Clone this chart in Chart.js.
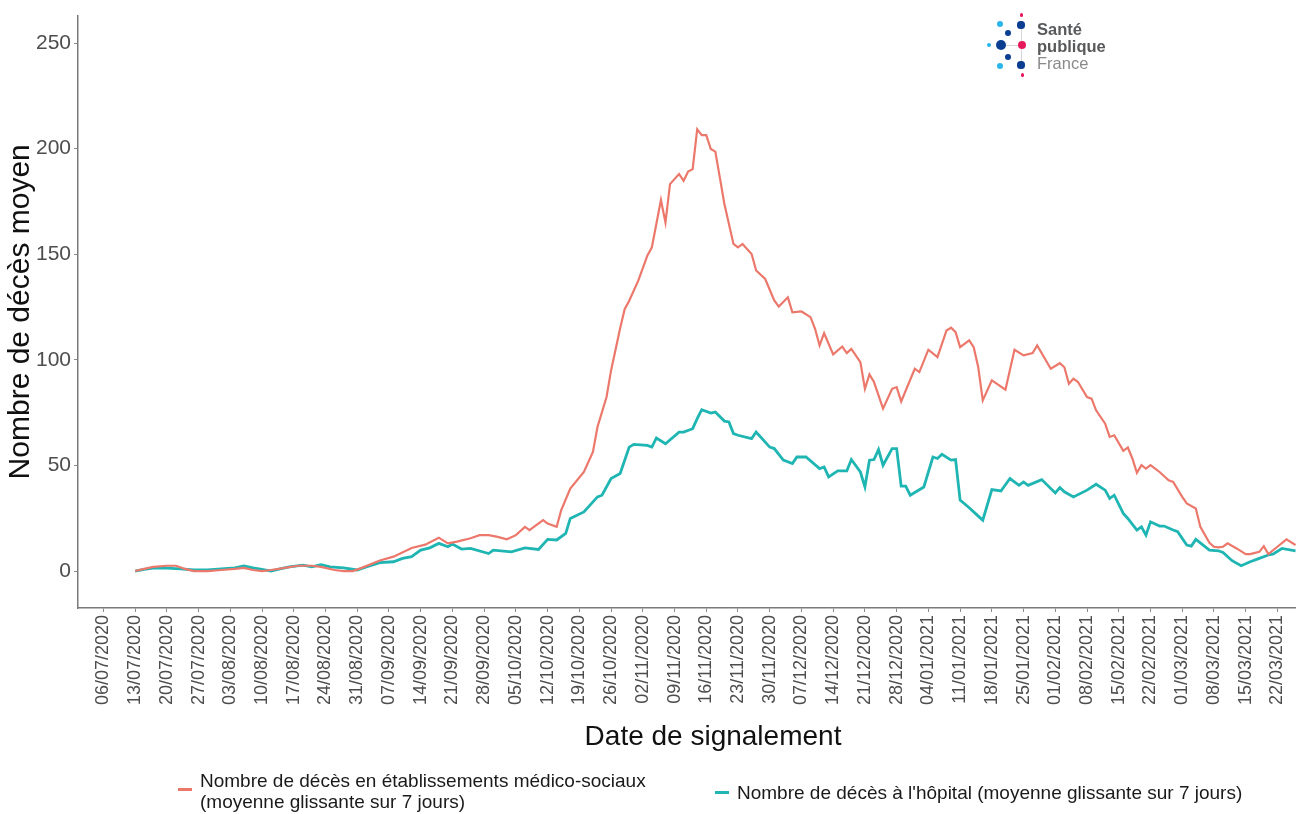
<!DOCTYPE html>
<html lang="fr">
<head>
<meta charset="utf-8">
<title>Nombre de décès moyen</title>
<script src="https://cdn.jsdelivr.net/npm/chart.js@4.4.0/dist/chart.umd.min.js"></script>
<style>
  html, body { margin: 0; padding: 0; background: #fff; }
  body { width: 1296px; height: 814px; position: relative; overflow: hidden; font-family: "Liberation Sans", Arial, sans-serif; }
  #graphique { position: absolute; left: 0; top: 0; }
  .legende { position: absolute; font-size: 19px; line-height: 21px; color: #1a1a1a; white-space: pre; }
  .cle { position: absolute; width: 14px; height: 3px; }
  #titreX { position: absolute; left: 713px; top: 720px; transform: translateX(-50%); font-size: 28px; line-height: 32px; color: #111; white-space: nowrap; }
  .logo { position: absolute; left: 980px; top: 8px; width: 150px; height: 75px; }
  .logo .pt { position: absolute; border-radius: 50%; }
  .logo .trait { position: absolute; background: #d6d6d6; }
  .logo .txt { position: absolute; left: 57px; font-size: 16.5px; line-height: 17px; color: #58595b; }
</style>
</head>
<body>
<canvas id="graphique" width="1296" height="814"></canvas>

<div id="titreX">Date de signalement</div>

<div class="logo" id="logo">
  <div class="trait" style="left:21px;top:36.5px;width:21px;height:1px"></div>
  <div class="trait" style="left:41px;top:17px;width:1px;height:40px"></div>
  <div class="txt" style="top:13px;font-weight:bold">Santé</div>
  <div class="txt" style="top:30px;font-weight:bold">publique</div>
  <div class="txt" style="top:47px;color:#8a8a8a">France</div>
</div>

<div class="legende" id="leg0" style="left:200px;top:770px"></div>
<div class="legende" id="leg1" style="left:737px;top:782px"></div>

<script>
// Axe des x : dates affichées (une par semaine)
const tickDates = ['06/07/2020','13/07/2020','20/07/2020','27/07/2020','03/08/2020','10/08/2020','17/08/2020','24/08/2020',
  '31/08/2020','07/09/2020','14/09/2020','21/09/2020','28/09/2020','05/10/2020','12/10/2020','19/10/2020','26/10/2020',
  '02/11/2020','09/11/2020','16/11/2020','23/11/2020','30/11/2020','07/12/2020','14/12/2020','21/12/2020','28/12/2020',
  '04/01/2021','11/01/2021','18/01/2021','25/01/2021','01/02/2021','08/02/2021','15/02/2021','22/02/2021','01/03/2021',
  '08/03/2021','15/03/2021','22/03/2021'];
const yTicks = [0, 50, 100, 150, 200, 250];

const nomsSeries = ['Nombre de décès en établissements médico-sociaux\n(moyenne glissante sur 7 jours)',
  "Nombre de décès à l'hôpital (moyenne glissante sur 7 jours)"];
const couleurs = ['#EC786C', '#1FB5B3'];

// Décès en établissements médico-sociaux (moyenne glissante 7 j)
const dateEms = ['13/07/2020','15/07/2020','17/07/2020','20/07/2020','22/07/2020','24/07/2020','26/07/2020','29/07/2020',
  '01/08/2020','04/08/2020','06/08/2020','08/08/2020','10/08/2020','12/08/2020','15/08/2020','18/08/2020','21/08/2020',
  '23/08/2020','26/08/2020','28/08/2020','30/08/2020','01/09/2020','05/09/2020','08/09/2020','12/09/2020','15/09/2020',
  '18/09/2020','20/09/2020','22/09/2020','25/09/2020','27/09/2020','29/09/2020','01/10/2020','03/10/2020','05/10/2020',
  '07/10/2020','08/10/2020','11/10/2020','12/10/2020','14/10/2020','15/10/2020','17/10/2020','20/10/2020','22/10/2020',
  '23/10/2020','25/10/2020','26/10/2020','28/10/2020','29/10/2020','30/10/2020','01/11/2020','03/11/2020','04/11/2020',
  '06/11/2020','07/11/2020','08/11/2020','10/11/2020','11/11/2020','12/11/2020','13/11/2020','14/11/2020','15/11/2020',
  '16/11/2020','17/11/2020','18/11/2020','19/11/2020','20/11/2020','22/11/2020','23/11/2020','24/11/2020','26/11/2020',
  '27/11/2020','29/11/2020','01/12/2020','02/12/2020','04/12/2020','05/12/2020','07/12/2020','09/12/2020','10/12/2020',
  '11/12/2020','12/12/2020','14/12/2020','16/12/2020','17/12/2020','18/12/2020','20/12/2020','21/12/2020','22/12/2020',
  '23/12/2020','25/12/2020','27/12/2020','28/12/2020','29/12/2020','01/01/2021','02/01/2021','04/01/2021','06/01/2021',
  '08/01/2021','09/01/2021','10/01/2021','11/01/2021','13/01/2021','14/01/2021','15/01/2021','16/01/2021','18/01/2021',
  '21/01/2021','23/01/2021','25/01/2021','27/01/2021','28/01/2021','31/01/2021','02/02/2021','03/02/2021','04/02/2021',
  '05/02/2021','06/02/2021','08/02/2021','09/02/2021','10/02/2021','12/02/2021','13/02/2021','14/02/2021','16/02/2021',
  '17/02/2021','18/02/2021','19/02/2021','20/02/2021','21/02/2021','22/02/2021','24/02/2021','26/02/2021','27/02/2021',
  '01/03/2021','02/03/2021','04/03/2021','05/03/2021','07/03/2021','08/03/2021','09/03/2021','10/03/2021','11/03/2021',
  '13/03/2021','15/03/2021','16/03/2021','18/03/2021','19/03/2021','20/03/2021','22/03/2021','24/03/2021','26/03/2021'];
const valEms = [0, 1, 2, 2.5, 2.5, 1, 0, 0,
  0.5, 1, 1.5, 0.5, 0, 0.5, 1.5, 2.5, 2.5,
  2, 0.5, 0, 0, 1.5, 5, 6.8, 10.9, 12.5,
  15.8, 13.1, 13.9, 15.5, 17, 17, 16.2, 15, 17,
  20.9, 19.4, 24.1, 22.5, 20.9, 28.8, 39, 46.9, 56.4,
  68.2, 82.4, 95, 115, 124, 128, 137.5, 149.3, 153.3,
  175.7, 165, 183.2, 188, 184.8, 189.2, 190.3, 209.2, 206.4,
  206.4, 199.8, 198.6, 186.3, 173.8, 154.9, 153.3, 154.9, 150.1,
  142.3, 138.3, 128.1, 125.2, 129.6, 122.5, 122.9, 120.2, 114.7,
  106.8, 112.6, 102.6, 106.3, 103.2, 105.2, 98.9, 86.3, 93.1,
  89.5, 76.9, 86.3, 87.1, 80.3, 95.8, 94.2, 104.8, 101.3,
  113.9, 115.2, 113.1, 106, 109.2, 106, 96.5, 80.8, 90.3,
  85.9, 104.8, 102.1, 103.2, 106.8, 95.8, 98.4, 96.5, 88.7,
  91.1, 89.5, 82.4, 81.6, 76.1, 69.8, 63.5, 64.3, 56.9,
  58.5, 53.3, 46.5, 50.1, 48.5, 50.1, 46.9, 43, 42.2,
  35.1, 32, 29.6, 20.9, 13.4, 11.5, 11.2, 11.5, 13.1,
  10.7, 8, 8, 9.1, 11.8, 8, 11.5, 15, 12.3];

// Décès à l'hôpital (moyenne glissante 7 j)
const dateHop = ['13/07/2020','15/07/2020','17/07/2020','20/07/2020','23/07/2020','26/07/2020','29/07/2020','01/08/2020',
  '04/08/2020','06/08/2020','08/08/2020','10/08/2020','12/08/2020','14/08/2020','16/08/2020','19/08/2020','21/08/2020',
  '23/08/2020','25/08/2020','28/08/2020','31/08/2020','02/09/2020','05/09/2020','08/09/2020','10/09/2020','12/09/2020',
  '14/09/2020','16/09/2020','18/09/2020','20/09/2020','21/09/2020','23/09/2020','25/09/2020','29/09/2020','30/09/2020',
  '04/10/2020','07/10/2020','10/10/2020','12/10/2020','14/10/2020','16/10/2020','17/10/2020','20/10/2020','23/10/2020',
  '24/10/2020','26/10/2020','28/10/2020','30/10/2020','31/10/2020','03/11/2020','04/11/2020','05/11/2020','07/11/2020',
  '10/11/2020','11/11/2020','13/11/2020','14/11/2020','15/11/2020','17/11/2020','18/11/2020','20/11/2020','21/11/2020',
  '22/11/2020','23/11/2020','26/11/2020','27/11/2020','30/11/2020','01/12/2020','03/12/2020','05/12/2020','06/12/2020',
  '08/12/2020','11/12/2020','12/12/2020','13/12/2020','15/12/2020','17/12/2020','18/12/2020','20/12/2020','21/12/2020',
  '22/12/2020','23/12/2020','24/12/2020','25/12/2020','27/12/2020','28/12/2020','29/12/2020','30/12/2020','31/12/2020',
  '03/01/2021','05/01/2021','06/01/2021','07/01/2021','09/01/2021','10/01/2021','11/01/2021','13/01/2021','15/01/2021',
  '16/01/2021','18/01/2021','20/01/2021','22/01/2021','24/01/2021','25/01/2021','26/01/2021','29/01/2021','01/02/2021',
  '02/02/2021','03/02/2021','05/02/2021','08/02/2021','10/02/2021','12/02/2021','13/02/2021','14/02/2021','16/02/2021',
  '17/02/2021','19/02/2021','20/02/2021','21/02/2021','22/02/2021','24/02/2021','25/02/2021','27/02/2021','28/02/2021',
  '02/03/2021','03/03/2021','04/03/2021','07/03/2021','09/03/2021','10/03/2021','12/03/2021','14/03/2021','16/03/2021',
  '18/03/2021','20/03/2021','21/03/2021','23/03/2021','26/03/2021'];
const valHop = [0, 0.8, 1.4, 1.4, 1, 0.5, 0.5, 1,
  1.5, 2.4, 1.5, 0.8, 0, 1, 2, 2.8, 2,
  3, 2, 1.5, 0.5, 2, 4, 4.4, 6, 6.8,
  9.9, 11, 13.1, 11.5, 12.8, 10.4, 10.7, 8.3, 9.9,
  9.1, 11, 10.2, 15, 14.7, 17.8, 24.9, 28, 35.1,
  35.9, 43.8, 46.2, 58.7, 60, 59.5, 58.7, 63, 60.3,
  65.8, 65.8, 67.4, 72.2, 76.4, 74.8, 75.3, 71, 70.6,
  65.1, 64.3, 62.7, 65.8, 58.7, 58, 52.5, 50.9, 54,
  54, 48.5, 49.3, 44.6, 47.4, 47.4, 52.8, 46.9, 39.8,
  52.5, 52.8, 57.5, 50.1, 58, 58, 40.2, 40.2, 35.9,
  39.8, 54, 53.3, 55.3, 52.5, 52.8, 33.6, 30, 26,
  24.1, 38.6, 37.9, 43.8, 40.6, 42.2, 40.6, 43.3, 37,
  39.5, 37.5, 35.1, 38.3, 41.1, 38.3, 34.4, 35.9, 27.3,
  24.9, 19.4, 20.9, 17, 23.3, 21.3, 21.3, 19.4, 18.6,
  12.3, 11.8, 15, 9.9, 9.6, 8.8, 4.9, 2.5, 4.4,
  6, 7.6, 8, 10.7, 9.6];

// nombre de jours depuis le 06/07/2020
const jour = s => {
  const [d, m, y] = s.split('/').map(Number);
  return Math.round((Date.UTC(y, m - 1, d) - Date.UTC(2020, 6, 6)) / 864e5);
};
const points = (dates, vals) => dates.map((d, i) => ({ x: jour(d), y: vals[i] }));

const premierJour = jour(dateEms[0]);
const dernierJour = jour(dateEms[dateEms.length - 1]);

const gris = '#4d4d4d';
const policeBase = '"Liberation Sans", Arial, sans-serif';

const ctx = document.getElementById('graphique').getContext('2d');
new Chart(ctx, {
  type: 'line',
  data: {
    datasets: [
      { label: nomsSeries[0], data: points(dateEms, valEms), borderColor: couleurs[0], borderWidth: 2.2, pointRadius: 0, tension: 0 },
      { label: nomsSeries[1], data: points(dateHop, valHop), borderColor: couleurs[1], borderWidth: 2.8, pointRadius: 0, tension: 0 }
    ]
  },
  options: {
    responsive: false,
    animation: false,
    layout: { padding: { left: 0, right: 0, top: 15, bottom: 58 } },
    plugins: { legend: { display: false }, tooltip: { enabled: false } },
    scales: {
      x: {
        type: 'linear',
        min: premierJour - 12.6,
        max: dernierJour + 0.1,
        afterBuildTicks: s => { s.ticks = tickDates.map(t => ({ value: jour(t) })); },
        afterFit: s => { s.height = 148; s.paddingLeft = 0; s.paddingRight = 0; },
        ticks: {
          autoSkip: false, maxRotation: 90, minRotation: 90, padding: 3,
          color: gris, font: { family: policeBase, size: 18 },
          callback: (v, i) => tickDates[i]
        },
        grid: { drawOnChartArea: false, tickLength: 4, color: '#8a8a8a' },
        border: { color: '#7a7a7a', width: 1.5 }
      },
      y: {
        min: -17.5,
        max: 263,
        afterBuildTicks: s => { s.ticks = yTicks.map(v => ({ value: v })); },
        afterFit: s => { s.width = 78; },
        ticks: { padding: 3, color: gris, font: { family: policeBase, size: 21 } },
        grid: { drawOnChartArea: false, tickLength: 4, color: '#8a8a8a' },
        border: { color: '#7a7a7a', width: 1.5 },
        title: { display: true, text: 'Nombre de décès moyen', color: '#111', font: { family: policeBase, size: 30 }, padding: { top: 3, bottom: 4 } }
      }
    }
  }
});

// légende
nomsSeries.forEach((nom, i) => {
  const el = document.getElementById('leg' + i);
  el.textContent = nom;
  const cle = document.createElement('div');
  cle.className = 'cle';
  cle.style.background = couleurs[i];
  cle.style.left = '-22px';
  cle.style.top = (i === 0 ? 18 : 9) + 'px';
  el.appendChild(cle);
});

// logo Santé publique France
const pointsLogo = [
  [41.7, 7, 1.6, '#e6195c'], [20, 16, 3.2, '#29b6ea'], [41, 17, 3.6, '#0b3d91'], [28.3, 25.3, 3.2, '#0b3d91'],
  [9.3, 37, 2, '#29b6ea'], [20.7, 37, 5, '#0b3d91'], [41.7, 37, 4.2, '#e6195c'], [28.3, 49.3, 3.2, '#0b3d91'],
  [20, 58, 3.2, '#29b6ea'], [41, 57, 3.6, '#0b3d91'], [42.7, 67, 1.6, '#e6195c']
];
const logo = document.getElementById('logo');
pointsLogo.forEach(([x, y, r, c]) => {
  const p = document.createElement('div');
  p.className = 'pt';
  p.style.left = (x - r) + 'px';
  p.style.top = (y - r) + 'px';
  p.style.width = p.style.height = (2 * r) + 'px';
  p.style.background = c;
  logo.appendChild(p);
});
</script>
</body>
</html>
